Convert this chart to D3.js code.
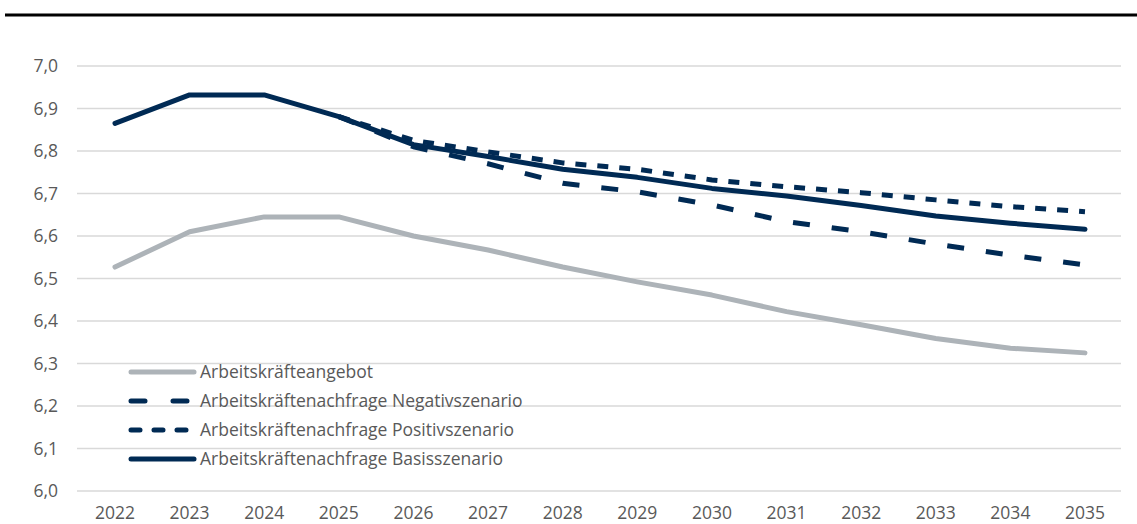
<!DOCTYPE html>
<html>
<head>
<meta charset="utf-8">
<script src="https://cdn.jsdelivr.net/npm/d3@7"></script>
<style>
  body { margin: 0; background: #fff; }
  .tick_text { font-family: "Open Sans", sans-serif; font-size: 17.5px; fill: #595959; }
  .leg_text { font-family: "Open Sans", sans-serif; font-size: 17.5px; fill: #595959; }
</style>
</head>
<body>
<script>
// chart data
var years = [2022, 2023, 2024, 2025, 2026, 2027, 2028, 2029, 2030, 2031, 2032, 2033, 2034, 2035];
var yTicks = [6.0, 6.1, 6.2, 6.3, 6.4, 6.5, 6.6, 6.7, 6.8, 6.9, 7.0];

var angebot = [6.527, 6.610, 6.645, 6.645, 6.600, 6.567, 6.527, 6.492, 6.461, 6.422, 6.391, 6.359, 6.336, 6.325];
var basis = [6.865, 6.932, 6.932, 6.881, 6.815, 6.787, 6.757, 6.738, 6.712, 6.694, 6.672, 6.647, 6.630, 6.616];
// scenarios start in 2025
var negativYears = [2025, 2026, 2027, 2028, 2029, 2030, 2031, 2032, 2033, 2034, 2035];
var negativ = [6.881, 6.810, 6.770, 6.724, 6.704, 6.673, 6.634, 6.610, 6.581, 6.555, 6.532];
var positiv = [6.881, 6.825, 6.798, 6.772, 6.757, 6.732, 6.716, 6.702, 6.685, 6.669, 6.657];

var seriesNames = ["Arbeitskräfteangebot", "Arbeitskräftenachfrage Negativszenario",
                   "Arbeitskräftenachfrage Positivszenario", "Arbeitskräftenachfrage Basisszenario"];

window.onload = function() {

  var w = 1137;
  var h = 524;
  var navy = "#002a54";
  var grey = "#adb3b8";

  var svg = d3.select("body")
              .append("svg")
              .attr("width", w)
              .attr("height", h);

  // black rule at the top
  svg.append("line")
     .attr("x1", 5)
     .attr("x2", w)
     .attr("y1", 15)
     .attr("y2", 15)
     .style("stroke", "#000")
     .style("stroke-width", 3);

  var xScale = d3.scalePoint()
                 .domain(years)
                 .range([115, 1085]);

  var yScale = d3.scaleLinear()
                 .domain([6.0, 7.0])
                 .range([491, 66]);

  // gridlines
  svg.selectAll(".grid")
     .data(yTicks)
     .enter().append("line")
     .attr("class", "grid")
     .attr("x1", 77)
     .attr("x2", 1121)
     .attr("y1", function(d) { return yScale(d); })
     .attr("y2", function(d) { return yScale(d); })
     .style("stroke", "#d9d9d9")
     .style("stroke-width", 1.5);

  // y labels
  svg.selectAll(".ylab")
     .data(yTicks)
     .enter().append("text")
     .attr("class", "tick_text")
     .attr("x", 58)
     .attr("y", function(d) { return yScale(d) + 6; })
     .style("text-anchor", "end")
     .text(function(d) { return d.toFixed(1).replace(".", ","); });

  // x labels
  svg.selectAll(".xlab")
     .data(years)
     .enter().append("text")
     .attr("class", "tick_text")
     .attr("x", function(d) { return xScale(d); })
     .attr("y", 519)
     .style("text-anchor", "middle")
     .text(function(d) { return d; });

  var line = d3.line()
               .x(function(d) { return xScale(d[0]); })
               .y(function(d) { return yScale(d[1]); });

  var series = [
    {values: d3.zip(years, angebot), color: grey, dash: null, cap: "round"},
    {values: d3.zip(negativYears, negativ), color: navy, dash: "17,22", cap: "butt"},
    {values: d3.zip(negativYears, positiv), color: navy, dash: "11,11", cap: "butt"},
    {values: d3.zip(years, basis), color: navy, dash: null, cap: "round"}
  ];

  svg.selectAll(".series")
     .data(series)
     .enter().append("path")
     .attr("class", "series")
     .attr("d", function(d) { return line(d.values); })
     .style("fill", "none")
     .style("stroke", function(d) { return d.color; })
     .style("stroke-width", 5)
     .style("stroke-linejoin", "round")
     .style("stroke-linecap", function(d) { return d.cap; })
     .style("stroke-dasharray", function(d) { return d.dash; });

  // legend
  var legDash = [null, "14,28", "9,14", null];
  svg.selectAll(".leg_line")
     .data(series)
     .enter().append("line")
     .attr("x1", 131)
     .attr("x2", 194)
     .attr("y1", function(d, i) { return 372 + i * 29; })
     .attr("y2", function(d, i) { return 372 + i * 29; })
     .style("stroke", function(d) { return d.color; })
     .style("stroke-width", 5)
     .style("stroke-linecap", "round")
     .style("stroke-dasharray", function(d, i) { return legDash[i]; });

  svg.selectAll(".leg_text")
     .data(seriesNames)
     .enter().append("text")
     .attr("class", "leg_text")
     .attr("x", 200)
     .attr("y", function(d, i) { return 378 + i * 29; })
     .text(function(d) { return d; });
};
</script>
</body>
</html>
